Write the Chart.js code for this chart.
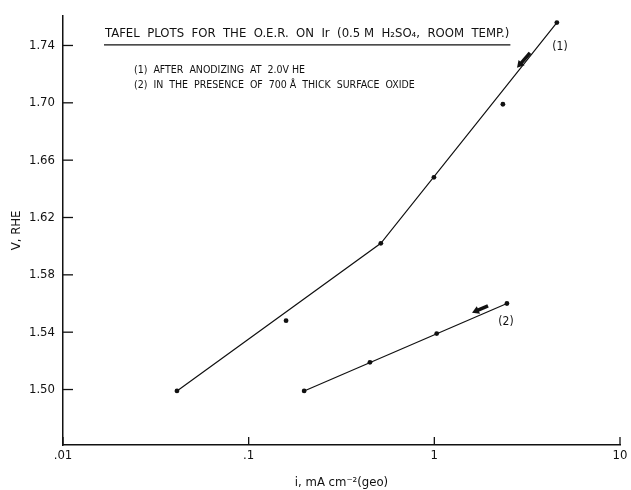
<!DOCTYPE html>
<html>
<head>
<meta charset="utf-8">
<script src="https://cdn.jsdelivr.net/npm/chart.js@4.4.1/dist/chart.umd.min.js"></script>
<style>
  html, body { margin: 0; padding: 0; background: #fff; }
  canvas { display: block; }
</style>
</head>
<body>
<canvas id="tafel" width="631" height="490"></canvas>
<script>
// axis ticks
const xTicks = [0.01, 0.1, 1, 10];
const xTickLabels = ['.01', '.1', '1', '10'];
const yTicks = [1.50, 1.54, 1.58, 1.62, 1.66, 1.70, 1.74];
const yTickLabels = ['1.50', '1.54', '1.58', '1.62', '1.66', '1.70', '1.74'];

// (1) after anodizing at 2.0 V RHE - measured points
const curve1Current = [0.0411, 0.159, 0.515, 0.995, 2.34, 4.57];
const curve1Potential = [1.499, 1.548, 1.602, 1.648, 1.699, 1.756];
// (1) drawn Tafel lines
const fit1Current = [0.0411, 0.515, 4.57];
const fit1Potential = [1.499, 1.602, 1.756];

// (2) with 700 A surface oxide - measured points
const curve2Current = [0.199, 0.450, 1.03, 2.46];
const curve2Potential = [1.499, 1.519, 1.539, 1.560];
// (2) drawn Tafel line
const fit2Current = [0.199, 2.46];
const fit2Potential = [1.499, 1.560];

const toXY = (xs, ys) => xs.map((x, i) => ({x: x, y: ys[i]}));

const FONT = "'Liberation Sans Narrow', 'DejaVu Sans Condensed', 'Liberation Sans', sans-serif";
const INK = '#111';

// inward tick marks, heading, notes and arrows
const decorations = {
    id: 'decorations',
    afterDraw(chart) {
        const ctx = chart.ctx;
        const area = chart.chartArea;
        const xs = chart.scales.x, ys = chart.scales.y;
        ctx.save();
        ctx.strokeStyle = INK;
        ctx.fillStyle = INK;
        ctx.lineWidth = 1.3;

        xTicks.forEach(v => {
            const px = xs.getPixelForValue(v);
            ctx.beginPath();
            ctx.moveTo(px, area.bottom);
            ctx.lineTo(px, area.bottom - 8);
            ctx.stroke();
        });
        yTicks.forEach(v => {
            const py = ys.getPixelForValue(v);
            ctx.beginPath();
            ctx.moveTo(area.left, py);
            ctx.lineTo(area.left + 10, py);
            ctx.stroke();
        });

        // heading, underlined
        ctx.font = '13px ' + FONT;
        ctx.textBaseline = 'alphabetic';
        ctx.textAlign = 'left';
        const head = 'TAFEL  PLOTS  FOR  THE  O.E.R.  ON  Ir  (0.5 M  H\u2082SO\u2084,  ROOM  TEMP.)';
        const hx = area.left + 42, hy = area.top + 21;
        ctx.fillText(head, hx, hy);
        const hw = ctx.measureText(head).width;
        ctx.lineWidth = 1.2;
        ctx.beginPath();
        ctx.moveTo(hx - 1, hy + 8);
        ctx.lineTo(hx + hw + 1, hy + 8);
        ctx.stroke();

        ctx.font = '10.5px ' + FONT;
        ctx.fillText('(1)  AFTER  ANODIZING  AT  2.0V HE', area.left + 71, area.top + 57);
        ctx.fillText('(2)  IN  THE  PRESENCE  OF  700 \u00C5  THICK  SURFACE  OXIDE', area.left + 71, area.top + 72);

        // curve labels
        ctx.font = '12px ' + FONT;
        ctx.textAlign = 'center';
        ctx.textBaseline = 'middle';
        ctx.fillText('(1)', area.left + 497, area.top + 31);
        ctx.fillText('(2)', area.left + 443, area.top + 306);

        // sweep direction arrows
        const arrow = (x0, y0, x1, y1) => {
            const a = Math.atan2(y1 - y0, x1 - x0);
            ctx.lineWidth = 3.5;
            ctx.lineCap = 'butt';
            ctx.beginPath();
            ctx.moveTo(x0, y0);
            ctx.lineTo(x1 - 4 * Math.cos(a), y1 - 4 * Math.sin(a));
            ctx.stroke();
            ctx.beginPath();
            ctx.moveTo(x1, y1);
            ctx.lineTo(x1 - 7 * Math.cos(a) + 4 * Math.sin(a), y1 - 7 * Math.sin(a) - 4 * Math.cos(a));
            ctx.lineTo(x1 - 7 * Math.cos(a) - 4 * Math.sin(a), y1 - 7 * Math.sin(a) + 4 * Math.cos(a));
            ctx.closePath();
            ctx.fill();
        };
        arrow(area.left + 467, area.top + 37, area.left + 454, area.top + 52);
        arrow(area.left + 425, area.top + 290, area.left + 409, area.top + 297);

        ctx.restore();
    }
};

const ctx = document.getElementById('tafel').getContext('2d');
const chart = new Chart(ctx, {
    type: 'scatter',
    data: {
        datasets: [
            {
                data: toXY(fit1Current, fit1Potential),
                showLine: true, pointRadius: 0,
                borderColor: INK, borderWidth: 1.2, fill: false
            },
            {
                data: toXY(fit2Current, fit2Potential),
                showLine: true, pointRadius: 0,
                borderColor: INK, borderWidth: 1.2, fill: false
            },
            {
                data: toXY(curve1Current, curve1Potential),
                showLine: false, pointRadius: 2.4,
                backgroundColor: INK, borderColor: INK, borderWidth: 0
            },
            {
                data: toXY(curve2Current, curve2Potential),
                showLine: false, pointRadius: 2.4,
                backgroundColor: INK, borderColor: INK, borderWidth: 0
            }
        ]
    },
    options: {
        responsive: false,
        animation: false,
        layout: { padding: { left: 0, right: 11, top: 12, bottom: 0 } },
        plugins: {
            legend: { display: false },
            tooltip: { enabled: false }
        },
        scales: {
            x: {
                type: 'logarithmic',
                min: 0.01,
                max: 10,
                afterBuildTicks: s => { s.ticks = xTicks.map(v => ({ value: v })); },
                afterFit: s => { s.height = 45; },
                grid: { display: false, drawTicks: false, tickLength: 0 },
                border: { display: true, color: INK, width: 1.5 },
                ticks: {
                    autoSkip: false, maxRotation: 0, padding: 3,
                    color: INK, font: { family: FONT, size: 13 },
                    callback: (v, i) => xTickLabels[i]
                },
                title: {
                    display: true,
                    text: 'i, mA cm\u207B\u00B2(geo)',
                    color: INK,
                    font: { family: FONT, size: 13 },
                    padding: { top: 0, bottom: 0 }
                }
            },
            y: {
                min: 1.4613,
                max: 1.7607,
                afterBuildTicks: s => { s.ticks = yTicks.map(v => ({ value: v })); },
                afterFit: s => { s.width = 63; },
                grid: { display: false, drawTicks: false, tickLength: 0 },
                border: { display: true, color: INK, width: 1.5 },
                ticks: {
                    autoSkip: false, padding: 8,
                    color: INK, font: { family: FONT, size: 13 },
                    callback: (v, i) => yTickLabels[i]
                },
                title: {
                    display: true,
                    text: 'V, RHE',
                    color: INK,
                    font: { family: FONT, size: 13 },
                    padding: { top: 9, bottom: 0 }
                }
            }
        }
    },
    plugins: [decorations]
});
</script>
</body>
</html>
